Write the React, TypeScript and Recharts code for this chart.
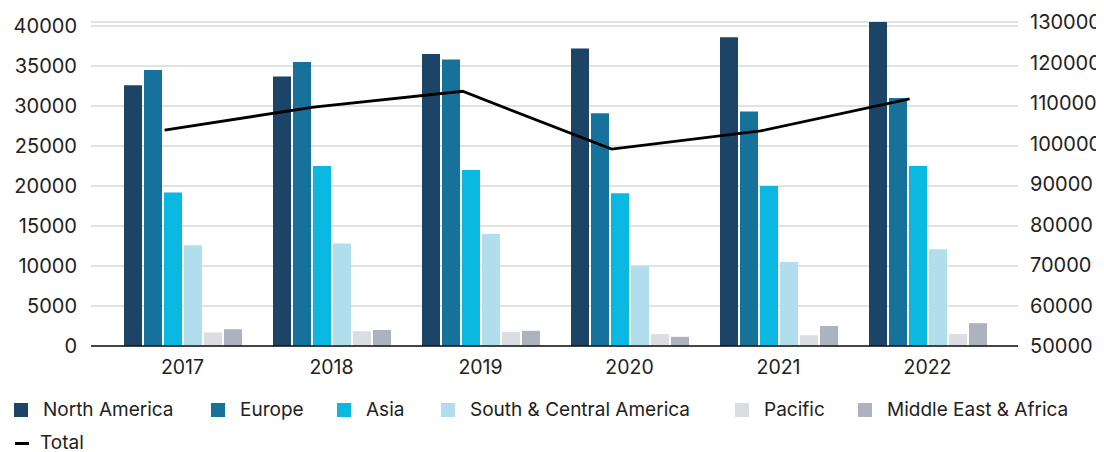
import React from "react";
import {
  ComposedChart,
  Bar,
  Line,
  XAxis,
  YAxis,
  CartesianGrid,
} from "recharts";

const years = ["2017", "2018", "2019", "2020", "2021", "2022"];
const northAmerica = [32600, 33700, 36500, 37200, 38600, 40500];
const europe = [34500, 35500, 35800, 29100, 29300, 31000];
const asia = [19200, 22500, 22000, 19100, 20000, 22500];
const southCentralAmerica = [12600, 12800, 14000, 9960, 10500, 12100];
const pacific = [1700, 1850, 1770, 1500, 1350, 1500];
const middleEastAfrica = [2100, 2000, 1900, 1150, 2500, 2850];
const total = [103300, 109000, 112900, 98600, 103100, 111000];

const leftTicks = [0, 5000, 10000, 15000, 20000, 25000, 30000, 35000, 40000];
const rightTicks = [50000, 60000, 70000, 80000, 90000, 100000, 110000, 120000, 130000];

const seriesNames = [
  "North America",
  "Europe",
  "Asia",
  "South & Central America",
  "Pacific",
  "Middle East & Africa",
];
const seriesKeys = ["na", "eu", "asia", "sca", "pac", "mea"];
const seriesColors = ["#1b4466", "#17729b", "#0bb8e2", "#b0deed", "#dcdde2", "#adb2bf"];

const data = years.map((y, i) => ({
  year: y,
  idx: i,
  na: northAmerica[i],
  eu: europe[i],
  asia: asia[i],
  sca: southCentralAmerica[i],
  pac: pacific[i],
  mea: middleEastAfrica[i],
  total: total[i],
}));

const FONT = "Inter, 'Noto Sans', sans-serif";
const legendLefts = [6, 203, 329, 433, 727, 850];

export default function App() {
  const yTickStyle = { fontSize: 20, fill: "#222", fontFamily: FONT };
  const xTickStyle = { fontSize: 19.5, fill: "#222", fontFamily: FONT };
  return (
    <div style={{ position: "relative", width: 1096, height: 444, fontFamily: FONT }}>
      <ComposedChart
        width={1096}
        height={380}
        data={data}
        margin={{ top: 14, right: 0, bottom: 0, left: 0 }}
        barGap={2}
        barCategoryGap={16}
      >
        <CartesianGrid vertical={false} stroke="#e2e2e2" strokeWidth={2} yAxisId="left" xAxisId="cat" />
        <XAxis
          xAxisId="cat"
          dataKey="year"
          type="category"
          padding={{ left: 17, right: 16 }}
          tickLine={false}
          tickSize={6}
          tickMargin={8}
          axisLine={{ stroke: "#111", strokeWidth: 1.5 }}
          tick={xTickStyle}
          height={42}
        />
        <XAxis
          xAxisId="line"
          dataKey="idx"
          type="number"
          domain={[-0.38, 5.62]}
          allowDataOverflow
          padding={{ left: 17, right: 16 }}
          hide
        />
        <YAxis
          yAxisId="left"
          orientation="left"
          domain={[0, 40000]}
          ticks={leftTicks}
          interval={0}
          width={83}
          axisLine={false}
          tickLine={false}
          tickSize={6}
          tickMargin={8}
          tick={yTickStyle}
        />
        <YAxis
          yAxisId="right"
          orientation="right"
          domain={[50000, 130000]}
          ticks={rightTicks}
          interval={0}
          width={86}
          axisLine={false}
          tickLine={false}
          tickSize={6}
          tickMargin={6}
          tick={{ ...yTickStyle, textAnchor: "start" }}
        />
        {seriesKeys.map((k, i) => (
          <Bar
            key={k}
            dataKey={k}
            name={seriesNames[i]}
            fill={seriesColors[i]}
            xAxisId="cat"
            yAxisId="left"
            isAnimationActive={false}
          />
        ))}
        <Line
          dataKey="total"
          name="Total"
          type="linear"
          stroke="#000"
          strokeWidth={2.8}
          dot={false}
          xAxisId="line"
          yAxisId="right"
          isAnimationActive={false}
        />
      </ComposedChart>
      {seriesNames.map((n, i) => (
        <div
          key={n}
          style={{
            position: "absolute",
            left: legendLefts[i],
            top: 390,
            display: "flex",
            alignItems: "center",
            whiteSpace: "nowrap",
            fontSize: 19,
            color: "#222",
            lineHeight: "24px",
          }}
        >
          <span
            style={{ display: "inline-block", width: 14, height: 14, background: seriesColors[i], marginRight: 15 }}
          />
          <span>{n}</span>
        </div>
      ))}
      <div
        style={{
          position: "absolute",
          left: 7,
          top: 423,
          display: "flex",
          alignItems: "center",
          fontSize: 19,
          color: "#222",
          lineHeight: "24px",
        }}
      >
        <span style={{ display: "inline-block", width: 14, height: 3, background: "#000", marginRight: 11 }} />
        <span>Total</span>
      </div>
    </div>
  );
}
